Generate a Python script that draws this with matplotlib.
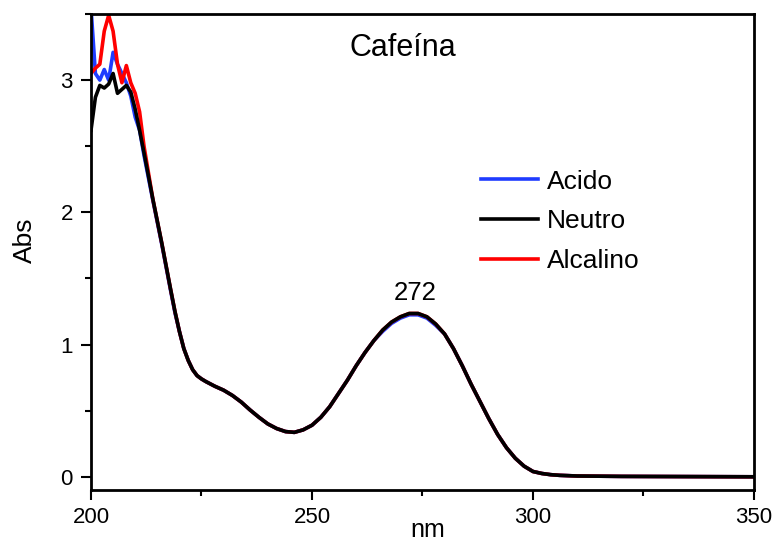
import matplotlib
matplotlib.use("Agg")
import matplotlib.pyplot as plt
from matplotlib.ticker import MultipleLocator

plt.rcParams['font.family'] = ['Liberation Sans', 'DejaVu Sans']

# noisy start of the spectra, 1 nm steps (200-212 nm)
nm_head = [200, 201, 202, 203, 204, 205, 206, 207, 208, 209, 210, 211, 212]
acido_head = [3.55, 3.05, 3.00, 3.08, 3.00, 3.21, 3.12, 3.05, 2.98, 2.88, 2.72, 2.62, 2.43]
neutro_head = [2.62, 2.87, 2.96, 2.94, 2.97, 3.05, 2.90, 2.93, 2.96, 2.91, 2.78, 2.62, 2.45]
alcalino_head = [3.05, 3.09, 3.12, 3.37, 3.49, 3.37, 3.12, 2.98, 3.11, 2.98, 2.90, 2.76, 2.50]

# rest of the spectrum, the three curves sit on top of each other
nm_tail = [214, 216, 218, 219, 220, 221, 222, 223, 224, 225, 226, 228, 230, 232, 234, 236, 238, 240,
           242, 244, 246, 248, 250, 252, 254, 256, 258, 260, 262, 264, 266, 268,
           270, 272, 274, 276, 278, 280, 282, 284, 286, 288, 290, 292, 294, 296,
           298, 300, 302, 304, 306, 310, 320, 350]
abs_tail = [2.10, 1.77, 1.42, 1.25, 1.10, 0.97, 0.88, 0.81, 0.765, 0.74, 0.72, 0.685, 0.655, 0.615,
            0.565, 0.505, 0.45, 0.40,
            0.365, 0.342, 0.336, 0.355, 0.39, 0.45, 0.53, 0.63, 0.73, 0.84, 0.94, 1.03, 1.11, 1.17,
            1.21, 1.235, 1.235, 1.21, 1.155, 1.08, 0.97, 0.84, 0.70, 0.57, 0.44, 0.32, 0.22, 0.14,
            0.08, 0.04, 0.025, 0.016, 0.011, 0.006, 0.003, 0.0]
acido_tail = [v - 0.01 if 1.1 < v else v for v in abs_tail]

nm = nm_head + nm_tail
acido = acido_head + acido_tail
neutro = neutro_head + abs_tail
alcalino = alcalino_head + abs_tail

fig = plt.figure(figsize=(7.75, 5.38), dpi=100)
ax = fig.add_axes([0.1174, 0.0892, 0.8555, 0.8848])

l1, = ax.plot(nm, acido, color='#1f3cff', lw=2.6, label='Acido')
l3, = ax.plot(nm, alcalino, color='#ff0000', lw=2.6, label='Alcalino')
l2, = ax.plot(nm, neutro, color='black', lw=2.6, label='Neutro')

ax.set_xlim(200, 350)
ax.set_ylim(-0.1, 3.5)
ax.xaxis.set_major_locator(MultipleLocator(50))
ax.xaxis.set_minor_locator(MultipleLocator(25))
ax.yaxis.set_major_locator(MultipleLocator(1))
ax.yaxis.set_minor_locator(MultipleLocator(0.5))
ax.tick_params(which='major', length=7, width=1.5, labelsize=16, direction='out')
ax.tick_params(which='minor', length=4, width=1.5, direction='out')
ax.tick_params(axis='x', pad=5)
ax.tick_params(axis='y', pad=6)
for s in ax.spines.values():
    s.set_linewidth(2)

ax.set_xlabel('nm', fontsize=18)
ax.xaxis.set_label_coords(0.508, -0.058)
ax.set_ylabel('Abs', fontsize=19, va='center')
ax.yaxis.set_label_coords(-0.1, 0.525)

ax.text(270.6, 3.24, 'Cafeína', fontsize=22, ha='center', va='center')
ax.text(273.3, 1.39, '272', fontsize=18.5, ha='center', va='center')

ax.legend(handles=[l1, l2, l3], loc='upper left', bbox_to_anchor=(0.588, 0.673),
          frameon=False, fontsize=19, handlelength=2.15, handletextpad=0.35,
          labelspacing=0.6, borderpad=0, borderaxespad=0)

fig.savefig('out.png', dpi=100)
